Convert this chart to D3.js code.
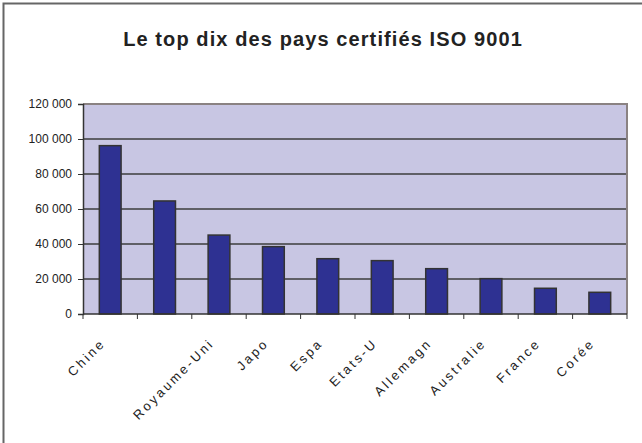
<!DOCTYPE html>
<html>
<head>
<meta charset="utf-8">
<script src="https://cdn.jsdelivr.net/npm/d3@7"></script>
<style>
  body { margin: 0; background: #fff; }
  text { font-family: "Liberation Sans", Arial, sans-serif; fill: #222; }
</style>
</head>
<body>
<script>
// données (nombre de certificats ISO 9001)
const pays = ["Chine", "Italie", "Royaume-Uni", "Japon", "Espagne", "Etats-Unis", "Allemagne", "Australie", "France", "Corée"];
const certificats = [96200, 64600, 45100, 38500, 31600, 30500, 25900, 20200, 14700, 12400];
// étiquettes telles qu'elles apparaissent (tronquées / masquées par Excel)
const etiquettes = ["Chine", "", "Royaume-Uni", "Japo", "Espa", "Etats-U", "Allemagn", "Australie", "France", "Corée"];
const yTicks = [0, 20000, 40000, 60000, 80000, 100000, 120000];
const titre = "Le top dix des pays certifiés ISO 9001";

const width = 642, height = 443;
const margin = { top: 104, right: 15, bottom: 129, left: 83 };

const svg = d3.select("body").append("svg")
  .attr("width", width)
  .attr("height", height);

// cadre du graphique
svg.append("rect")
  .attr("x", 3.5).attr("y", 3.5)
  .attr("width", width + 10).attr("height", height + 10)
  .attr("fill", "#fff")
  .attr("stroke", "#666")
  .attr("stroke-width", 2);

svg.append("text")
  .attr("x", 323).attr("y", 46)
  .attr("text-anchor", "middle")
  .style("font-weight", "bold")
  .style("font-size", "20px")
  .style("letter-spacing", "1.1px")
  .attr("fill", "#333")
  .text(titre);

const x = d3.scaleBand()
  .domain(pays)
  .range([margin.left, width - margin.right])
  .paddingInner(0.6)
  .paddingOuter(0.3);

const y = d3.scaleLinear()
  .domain([0, 120000])
  .range([height - margin.bottom, margin.top]);

// zone de traçage
svg.append("rect")
  .attr("x", margin.left).attr("y", margin.top)
  .attr("width", width - margin.right - margin.left)
  .attr("height", y(0) - margin.top)
  .attr("fill", "#c8c6e3");

// quadrillage
svg.append("g")
  .selectAll("line")
  .data(yTicks.slice(1, -1))
  .join("line")
  .attr("x1", margin.left).attr("x2", width - margin.right)
  .attr("y1", d => y(d)).attr("y2", d => y(d))
  .attr("stroke", "#3c3c3c")
  .attr("stroke-width", 1.3);

// bordure haute et droite
svg.append("path")
  .attr("d", `M${margin.left},${margin.top}H${width - margin.right}V${y(0)}`)
  .attr("fill", "none")
  .attr("stroke", "#8a8282")
  .attr("stroke-width", 2);

// barres
svg.append("g")
  .selectAll("rect")
  .data(certificats)
  .join("rect")
  .attr("x", (d, i) => x(pays[i]))
  .attr("y", d => y(d))
  .attr("width", x.bandwidth())
  .attr("height", d => y(0) - y(d))
  .attr("fill", "#2e3192")
  .attr("stroke", "#333")
  .attr("stroke-width", 1.5);

// axe Y
const fmt = v => d3.format(",")(v).replace(/,/g, "\u00a0");
const yAxis = svg.append("g")
  .attr("transform", `translate(${margin.left},0)`)
  .call(d3.axisLeft(y).tickValues(yTicks).tickSize(5).tickPadding(6).tickFormat(fmt));
yAxis.select(".domain").attr("stroke", "#333").attr("stroke-width", 1.5);
yAxis.selectAll(".tick line").attr("stroke", "#333");
yAxis.selectAll(".tick text")
  .style("font-size", "12px")
  .style("font-family", "'Liberation Sans', Arial, sans-serif")
  .attr("fill", "#222");

// axe X : graduations entre les catégories
const bornes = d3.range(pays.length + 1).map(i => margin.left + i * (width - margin.right - margin.left) / pays.length);
svg.append("line")
  .attr("x1", margin.left).attr("x2", width - margin.right)
  .attr("y1", y(0)).attr("y2", y(0))
  .attr("stroke", "#333").attr("stroke-width", 1.5);
svg.append("g")
  .selectAll("line")
  .data(bornes)
  .join("line")
  .attr("x1", d => d).attr("x2", d => d)
  .attr("y1", y(0)).attr("y2", y(0) + 5)
  .attr("stroke", "#333");

// étiquettes inclinées
svg.append("g")
  .selectAll("text")
  .data(etiquettes)
  .join("text")
  .attr("transform", (d, i) => `translate(${x(pays[i]) + x.bandwidth() / 2 - 4},${y(0) + 30}) rotate(-45)`)
  .attr("text-anchor", "end")
  .style("font-size", "13px")
  .style("letter-spacing", "2.6px")
  .attr("fill", "#222")
  .text(d => d);
</script>
</body>
</html>
